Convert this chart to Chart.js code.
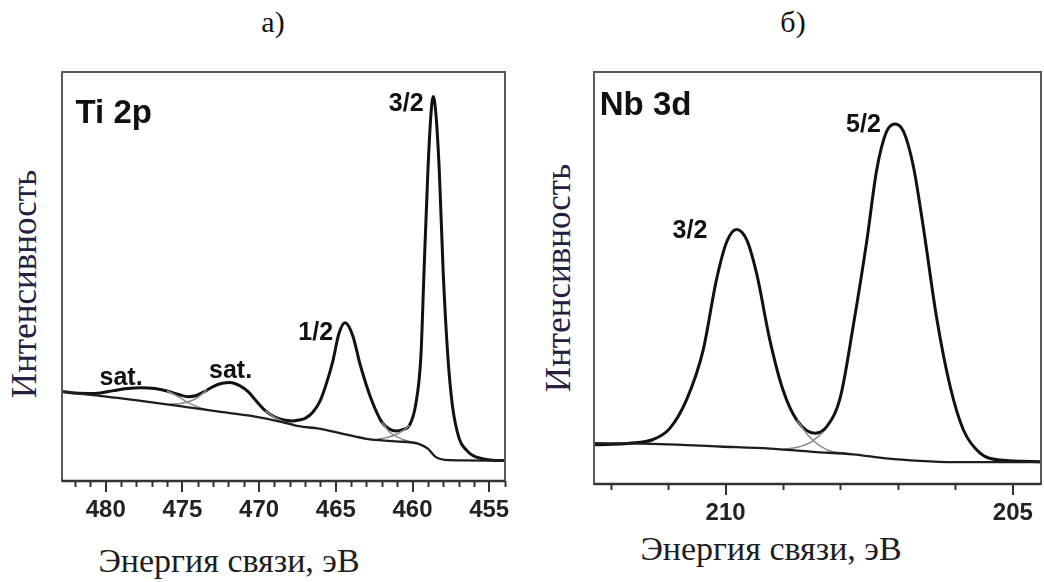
<!DOCTYPE html>
<html lang="ru">
<head>
<meta charset="utf-8">
<title>Ti 2p / Nb 3d</title>
<script src="https://cdn.jsdelivr.net/npm/chart.js@4.4.1/dist/chart.umd.min.js"></script>
<style>
  html, body { margin: 0; padding: 0; background: #fff; }
  body { position: relative; width: 1044px; height: 582px; overflow: hidden; }
  .panel { position: absolute; top: 0; height: 582px; }
  .txt { position: absolute; white-space: nowrap; line-height: 1; font-family: 'Liberation Serif', 'DejaVu Serif', serif; }
  .ylab { color: #262040; font-size: 35px; transform: translate(-50%, -50%) rotate(-90deg); }
  .xlab { color: #1e1e1e; font-size: 34px; transform: translateX(-50%); }
  .tag { color: #111; font-size: 30px; transform: translateX(-50%); }
</style>
</head>
<body>
<div class="txt tag" style="left:273px; top:7px;">а)</div>
<div class="txt tag" style="left:793px; top:7px;">б)</div>
<div class="txt ylab" style="left:24px; top:284px;">Интенсивность</div>
<div class="txt ylab" style="left:558px; top:278px;">Интенсивность</div>
<div class="txt xlab" style="left:229px; top:544px;">Энергия связи, эВ</div>
<div class="txt xlab" style="left:771px; top:532px;">Энергия связи, эВ</div>

<div class="panel" style="left:0; width:520px;"><canvas id="tiChart"></canvas></div>
<div class="panel" style="left:522px; width:522px;"><canvas id="nbChart"></canvas></div>

<script>
// Ti 2p, binding energy (eV) vs intensity (a.u., 0..100 of the frame)
const tiEnvelopeEnergy = [482.85, 482.0, 480.7, 479.5, 478.6, 477.7, 476.8, 476.0, 475.3, 474.6, 474.1,
  473.6, 473.0, 472.4, 471.9, 471.3, 470.7, 470.2, 469.6, 469.0, 468.4, 467.8, 467.4, 467.0, 466.5,
  466.0, 465.6, 465.2, 464.8, 464.4, 463.9, 463.4, 462.7, 462.0, 461.5, 461.1, 460.6, 460.2, 459.8,
  459.45, 459.25, 459.0, 458.8, 458.65, 458.47, 458.25, 458.0, 457.7, 457.4, 456.95, 456.5, 456.1,
  455.5, 454.8, 453.97];
const tiEnvelope = [21.9, 21.5, 21.4, 22.1, 22.6, 22.8, 22.6, 22.0, 21.2, 20.6, 20.9,
  21.8, 23.1, 23.9, 24.1, 23.4, 21.8, 19.6, 17.2, 15.7, 14.9, 14.7, 14.9, 15.3, 16.8,
  19.8, 24.0, 29.2, 36.0, 38.7, 35.6, 28.3, 20.1, 14.4, 12.7, 12.2, 12.6, 13.6, 18.5,
  30.7, 51.1, 75.5, 89.5, 94.0, 89.5, 75.5, 51.1, 30.7, 18.5, 10.3, 7.6, 6.3,
  5.5, 5.1, 5.0];

const tiBackgroundEnergy = [482.85, 480.5, 478.6, 476.5, 474.6, 472.5, 470.5, 468.5, 467.4, 466.1,
  464.6, 463.0, 461.1, 459.6, 459.0, 458.5, 457.6, 453.97];
const tiBackground = [21.8, 20.9, 20.0, 19.0, 18.0, 16.9, 15.9, 14.4, 13.4, 12.8,
  11.6, 10.3, 9.7, 9.1, 7.9, 5.9, 5.1, 5.0];

// fitted components, only where they part from the envelope
const tiComponents = [
  { energy: [476.0, 475.3, 474.6, 473.9, 473.4], counts: [22.0, 20.7, 19.1, 18.0, 17.4] },
  { energy: [475.8, 475.0, 474.3, 473.8, 473.4], counts: [18.8, 19.0, 19.8, 21.0, 22.4] },
  { energy: [469.6, 469.0, 468.4, 467.8], counts: [17.2, 15.6, 14.5, 13.9] },
  { energy: [462.0, 461.5, 461.0, 460.5, 460.0], counts: [14.4, 12.0, 10.8, 10.0, 9.4] },
  { energy: [462.3, 461.7, 461.1, 460.6, 460.2], counts: [10.2, 10.6, 11.3, 12.4, 13.6] },
];

const tiLabels = ['Ti 2p', 'sat.', 'sat.', '1/2', '3/2'];
const tiLabelEnergy = [481.97, 479.0, 471.86, 466.31, 460.41];
const tiLabelLevel = [87.5, 23.5, 25.2, 34.5, 90.5];

// Nb 3d
const nbEnvelopeEnergy = [212.29, 211.67, 211.26, 210.97, 210.68, 210.39, 210.16, 209.98, 209.81,
  209.63, 209.46, 209.23, 209.0, 208.76, 208.44, 208.24, 208.0, 207.78, 207.54, 207.37, 207.2,
  207.05, 206.9, 206.73, 206.56, 206.32, 206.09, 205.86, 205.57, 205.22, 204.51];
const nbEnvelope = [9.5, 9.9, 10.8, 13.5, 20.4, 32.5, 49.5, 58.8, 61.8,
  59.2, 51.1, 35.0, 22.8, 15.5, 12.3, 13.9, 21.2, 38.2, 59.2, 76.2, 85.5,
  87.4, 85.5, 77.0, 62.5, 39.8, 23.6, 13.1, 7.5, 5.8, 5.4];

const nbBackgroundEnergy = [212.29, 211.14, 210.1, 209.23, 208.47, 207.78, 207.2, 206.62, 206.04, 204.51];
const nbBackground = [9.9, 9.7, 9.1, 8.6, 7.8, 7.2, 6.2, 5.6, 5.3, 5.3];

const nbComponents = [
  { energy: [208.76, 208.55, 208.35, 208.15, 207.9], counts: [15.5, 11.6, 9.2, 7.9, 7.5] },
  { energy: [209.0, 208.75, 208.5, 208.3], counts: [8.4, 8.9, 10.3, 12.6] },
];

const nbLabels = ['Nb 3d', '3/2', '5/2'];
const nbLabelEnergy = [212.19, 210.62, 207.6];
const nbLabelLevel = [89.6, 59.7, 85.4];

const toPoints = (xs, ys) => xs.map((x, i) => ({ x: x, y: ys[i] }));

const lineSet = (points, color, width) => ({
  data: points,
  borderColor: color,
  borderWidth: width,
  pointRadius: 0,
  fill: false,
  cubicInterpolationMode: 'monotone',
});

const framePlugin = {
  id: 'frame',
  afterDatasetsDraw(chart) {
    const a = chart.chartArea;
    const ctx = chart.ctx;
    ctx.save();
    ctx.strokeStyle = '#5a5a5a';
    ctx.lineWidth = 2;
    ctx.strokeRect(a.left, a.top, a.right - a.left, a.bottom - a.top);
    ctx.strokeStyle = '#333';
    ctx.lineWidth = 2.5;
    ctx.beginPath();
    ctx.moveTo(a.left, a.bottom);
    ctx.lineTo(a.right, a.bottom);
    ctx.stroke();

    // minor ticks every 1 eV
    const sx = chart.scales.x;
    ctx.strokeStyle = '#333';
    ctx.lineWidth = 2;
    for (let v = Math.ceil(Math.min(sx.min, sx.max)); v <= Math.max(sx.min, sx.max); v++) {
      if (v % 5 === 0) continue;
      const px = Math.round(sx.getPixelForValue(v)) + 0.5;
      ctx.beginPath();
      ctx.moveTo(px, a.bottom);
      ctx.lineTo(px, a.bottom + 6);
      ctx.stroke();
    }
    ctx.restore();
  },
};

const labelPlugin = {
  id: 'peakLabels',
  afterDatasetsDraw(chart, args, opts) {
    const ctx = chart.ctx;
    const sx = chart.scales.x;
    const sy = chart.scales.y;
    ctx.save();
    ctx.fillStyle = '#111';
    ctx.textBaseline = 'alphabetic';
    opts.texts.forEach((t, i) => {
      const first = i === 0;
      ctx.font = 'bold ' + (first ? 33 : 25) + "px 'Liberation Sans', Arial, sans-serif";
      ctx.textAlign = first ? 'left' : 'center';
      ctx.fillText(t, sx.getPixelForValue(opts.energy[i]), sy.getPixelForValue(opts.level[i]));
    });
    ctx.restore();
  },
};

function makeChart(id, cfg) {
  const datasets = [lineSet(toPoints(cfg.bgE, cfg.bg), '#1e1e1e', 2.3)];
  cfg.comps.forEach((c) => datasets.push(lineSet(toPoints(c.energy, c.counts), '#8a8a8a', 1.5)));
  datasets.push(lineSet(toPoints(cfg.envE, cfg.env), '#111', 3));

  return new Chart(document.getElementById(id).getContext('2d'), {
    type: 'line',
    data: { datasets: datasets },
    plugins: [framePlugin, labelPlugin],
    options: {
      responsive: true,
      maintainAspectRatio: false,
      animation: false,
      events: [],
      layout: { padding: cfg.padding },
      plugins: {
        legend: { display: false },
        tooltip: { enabled: false },
        peakLabels: { texts: cfg.labels, energy: cfg.labelE, level: cfg.labelY },
      },
      scales: {
        x: {
          type: 'linear',
          reverse: true,
          min: cfg.xmin,
          max: cfg.xmax,
          afterFit: (s) => { s.height = 40; },
          border: { display: false },
          grid: { drawOnChartArea: false, drawTicks: true, tickLength: 11, color: '#333', lineWidth: 2 },
          ticks: {
            stepSize: 5,
            includeBounds: false,
            autoSkip: false,
            maxRotation: 0,
            padding: 4,
            color: '#222',
            font: { family: "'Liberation Sans', Arial, sans-serif", size: 24, weight: 'bold' },
          },
        },
        y: { display: false, min: 0, max: 100 },
      },
    },
  });
}

makeChart('tiChart', {
  envE: tiEnvelopeEnergy, env: tiEnvelope,
  bgE: tiBackgroundEnergy, bg: tiBackground,
  comps: tiComponents,
  labels: tiLabels, labelE: tiLabelEnergy, labelY: tiLabelLevel,
  xmin: 453.97, xmax: 482.85,
  padding: { left: 62, right: 15, top: 72, bottom: 61 },
});

makeChart('nbChart', {
  envE: nbEnvelopeEnergy, env: nbEnvelope,
  bgE: nbBackgroundEnergy, bg: nbBackground,
  comps: nbComponents,
  labels: nbLabels, labelE: nbLabelEnergy, labelY: nbLabelLevel,
  xmin: 204.51, xmax: 212.29,
  padding: { left: 72, right: 3, top: 72, bottom: 58 },
});
</script>
</body>
</html>
